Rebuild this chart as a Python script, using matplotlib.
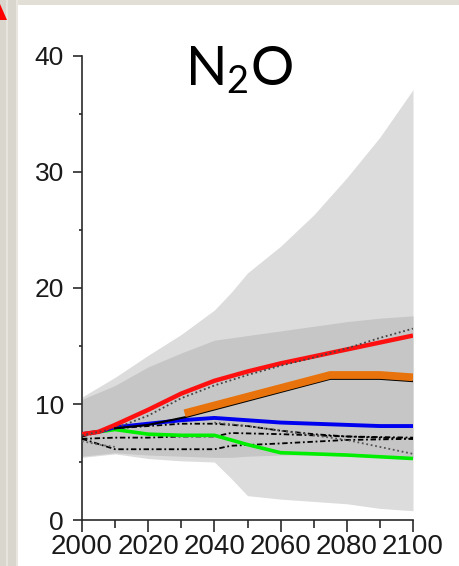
import matplotlib
matplotlib.use("Agg")
import matplotlib.pyplot as plt
from matplotlib.patches import Rectangle, Polygon
from matplotlib.ticker import MultipleLocator

plt.rcParams["mathtext.fontset"] = "custom"
plt.rcParams["mathtext.rm"] = "Lato"
plt.rcParams["mathtext.default"] = "regular"

# ---- data -------------------------------------------------------------
years_band = [2000, 2010, 2020, 2030, 2040, 2045, 2050, 2060, 2070, 2080, 2090, 2100]
outer_upper = [10.6, 12.3, 14.2, 16.0, 18.1, 19.6, 21.3, 23.6, 26.3, 29.5, 33.0, 37.1]
outer_lower = [5.4, 5.7, 5.3, 5.1, 5.0, 3.6, 2.1, 1.8, 1.6, 1.4, 1.0, 0.8]
inner_upper = [10.4, 11.6, 13.2, 14.4, 15.5, 15.7, 15.9, 16.3, 16.7, 17.1, 17.4, 17.6]
inner_lower = [5.5, 5.8, 5.6, 5.5, 5.4, 5.4, 5.5, 5.6, 5.6, 5.5, 5.4, 5.3]

years = [2000, 2005, 2010, 2020, 2030, 2040, 2050, 2060, 2070, 2080, 2090, 2100]
red = [7.4, 7.6, 8.2, 9.5, 10.9, 12.0, 12.8, 13.5, 14.1, 14.7, 15.3, 15.9]
blue = [7.4, 7.6, 8.0, 8.3, 8.6, 8.8, 8.6, 8.4, 8.3, 8.2, 8.1, 8.1]
green = [7.4, 7.6, 7.8, 7.4, 7.3, 7.3, 6.5, 5.8, 5.7, 5.6, 5.45, 5.3]

orange_years = [2031, 2075, 2090, 2100]
orange = [9.2, 12.5, 12.5, 12.3]
black_years = [2010, 2020, 2031, 2075, 2090, 2100]
black = [7.9, 8.2, 8.85, 12.17, 12.17, 11.97]

dot_top_years = [2000, 2010, 2020, 2030, 2040, 2050, 2060, 2070, 2080, 2090, 2100]
dot_top = [7.3, 7.9, 9.0, 10.5, 11.6, 12.5, 13.3, 14.0, 14.8, 15.7, 16.5]
dot_fall_years = [2040, 2050, 2060, 2070, 2080, 2090, 2100]
dot_fall = [8.4, 8.1, 7.7, 7.3, 6.9, 6.3, 5.7]
dot_start_years = [2000, 2005, 2010]
dot_start = [6.8, 6.5, 6.3]

dd_a_years = [2000, 2010, 2020, 2030, 2040, 2050, 2060, 2070, 2080, 2090, 2100]
dd_a = [7.2, 7.9, 8.1, 8.3, 8.3, 8.1, 7.7, 7.4, 7.2, 7.1, 7.0]
dd_b_years = [2000, 2010, 2020, 2030, 2040, 2045, 2060, 2080, 2100]
dd_b = [7.0, 7.1, 7.1, 7.2, 7.2, 7.5, 7.4, 7.2, 7.1]
dd_c_years = [2000, 2010, 2020, 2030, 2040, 2045, 2060, 2080, 2100]
dd_c = [7.0, 6.1, 6.1, 6.1, 6.1, 6.4, 6.6, 6.9, 7.0]

x_ticks = [2000, 2020, 2040, 2060, 2080, 2100]
y_ticks = [0, 10, 20, 30, 40]

# ---- figure -----------------------------------------------------------
W, H = 459, 566
fig = plt.figure(figsize=(W / 100, H / 100), dpi=100)
fig.patch.set_facecolor("white")

def px_rect(x0, y0, w, h, color):
    fig.patches.append(Rectangle((x0 / W, 1 - (y0 + h) / H), w / W, h / H,
                                 transform=fig.transFigure, facecolor=color,
                                 edgecolor="none", zorder=0))

# slide frame strips
px_rect(0, 0, W, 5, "#e2e0d6")
px_rect(0, 0, 18, H, "#d9d7cd")
px_rect(6, 0, 2, H, "#e6e4dc")
px_rect(16, 0, 2, H, "#e8e6df")
fig.patches.append(Polygon([(0, 1 - 4 / H), (7 / W, 1 - 20 / H), (0, 1 - 20 / H)],
                           closed=True, transform=fig.transFigure,
                           facecolor="#ff0000", edgecolor="none", zorder=1))

ax = fig.add_axes([82 / W, 1 - 520 / H, 331 / W, 464 / H])
ax.set_xlim(2000, 2100)
ax.set_ylim(0, 40)
ax.patch.set_alpha(0)

ax.fill_between(years_band, outer_lower, outer_upper, color="#dcdcdc",
                linewidth=0, zorder=1)
ax.fill_between(years_band, inner_lower, inner_upper, color="#c6c6c6",
                linewidth=0, zorder=2)

dd_style = dict(color="black", linewidth=1.3, linestyle=(0, (3, 1.5, 1, 1.5)), zorder=3)
ax.plot(dd_a_years, dd_a, **dd_style)
ax.plot(dd_b_years, dd_b, **dd_style)
ax.plot(dd_c_years, dd_c, **dd_style)
ax.plot(dot_fall_years, dot_fall, color="#555555", linewidth=1.3,
        linestyle=(0, (1, 1.5)), zorder=3)
ax.plot(dot_start_years, dot_start, color="#666666", linewidth=1.3,
        linestyle=(0, (1, 1.5)), zorder=3)

ax.plot(years, green, color="#00ee00", linewidth=2.6, zorder=4,
        solid_capstyle="butt")
ax.plot(years, blue, color="#0000f0", linewidth=2.8, zorder=4,
        solid_capstyle="butt")
ax.plot(years, red, color="#ff1010", linewidth=3.2, zorder=5,
        solid_capstyle="butt")
ax.plot(dot_top_years, dot_top, color="#444444", linewidth=1.3,
        linestyle=(0, (1, 1.5)), zorder=6)
ax.plot(black_years, black, color="black", linewidth=1.5, zorder=6)
ax.plot(orange_years, orange, color="#e8720c", linewidth=5.6, zorder=7,
        solid_capstyle="butt")

# axes styling
for side in ("top", "right"):
    ax.spines[side].set_visible(False)
for side in ("left", "bottom"):
    ax.spines[side].set_color("#2a2a2a")
    ax.spines[side].set_linewidth(1.2)

ax.set_xticks(x_ticks)
ax.set_xticklabels([str(v) for v in x_ticks])
ax.set_yticks(y_ticks)
ax.set_yticklabels([str(v) for v in y_ticks])
ax.xaxis.set_minor_locator(MultipleLocator(10))
ax.yaxis.set_minor_locator(MultipleLocator(5))

ax.tick_params(axis="x", which="major", length=8.5, width=1.2, color="#2a2a2a",
               pad=1.5, labelsize=20, labelcolor="#1a1a1a")
ax.tick_params(axis="x", which="minor", length=5.5, width=1.2, color="#2a2a2a")
ax.tick_params(axis="y", which="major", length=6.5, width=1.2, color="#2a2a2a",
               pad=6.5, labelsize=19, labelcolor="#1a1a1a")
ax.tick_params(axis="y", which="minor", length=2.5, width=1.2, color="#2a2a2a")
for lbl in ax.get_xticklabels() + ax.get_yticklabels():
    lbl.set_family("Liberation Sans")

fig.text(239 / W, 1 - 86 / H, r"N$_2$O", fontsize=39, family="Lato",
         ha="center", va="baseline", color="black")

fig.savefig("out.png", dpi=100)
